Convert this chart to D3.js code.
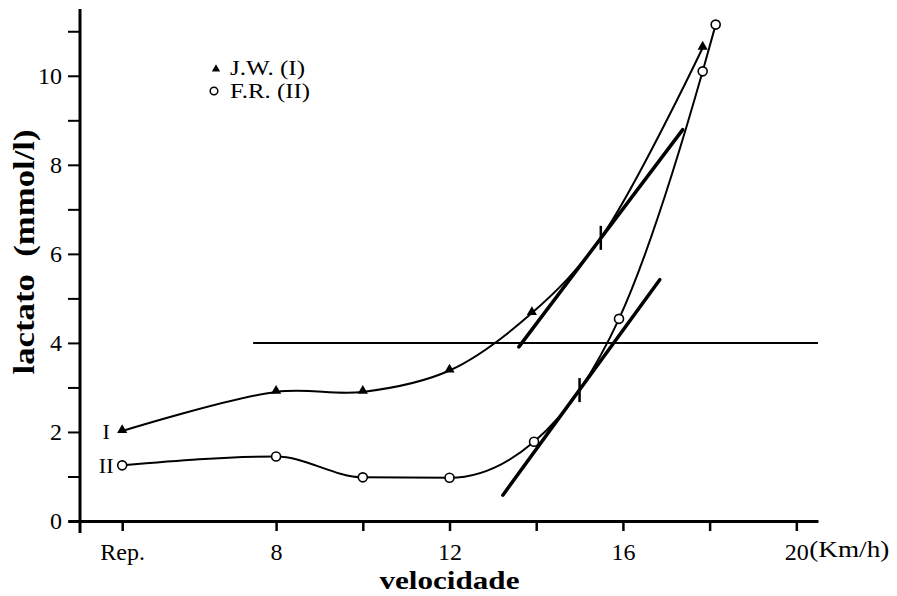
<!DOCTYPE html>
<html>
<head>
<meta charset="utf-8">
<script src="https://cdn.jsdelivr.net/npm/d3@7"></script>
<style>
  body { margin: 0; background: #fff; }
  svg { display: block; font-family: "Liberation Serif", "Times New Roman", serif; }
</style>
</head>
<body>
<svg width="897" height="596"></svg>
<script>
const width = 897;
const height = 596;

// "Rep." (repouso) is drawn a little left of 8 km/h
const REP = 4.45;

const xTicks = [REP, 8, 10, 12, 14, 16, 18, 20];
const xTickLabels = ['Rep.', '8', '', '12', '', '16', '', '20'];
const yTicks = [0, 1, 2, 3, 4, 5, 6, 7, 8, 9, 10, 11];

// J.W. (I) - triangles
const speedI = [REP, 8, 10, 12, 13.9, 17.84];
const lactI = [2.02, 2.9, 2.9, 3.38, 4.67, 10.63];
// F.R. (II) - circles
const speedII = [REP, 8, 10, 12, 13.95, 15.91, 17.84, 18.14];
const lactII = [1.25, 1.45, 0.98, 0.97, 1.78, 4.54, 10.1, 11.15];

// marked thresholds (small vertical dashes) and tangent lines
const thresholdI = [15.49, 6.36];
const thresholdII = [15.0, 2.94];
const tangentI = [[13.6, 3.91], [17.38, 8.79]];
const tangentII = [[13.23, 0.58], [16.85, 5.42]];
const refLevel = 4;
const refStart = 7.47;

const serif = '"Liberation Serif", "Times New Roman", serif';
const svg = d3.select('svg');

const xScale = d3.scaleLinear()
    .domain([3.2, 20.5])
    .range([68, 818]);

const yScale = d3.scaleLinear()
    .domain([0, 11.5])
    .range([521, 9]);

const yAxisX = 80;

// x axis
const xAxis = d3.axisBottom(xScale)
    .tickValues(xTicks)
    .tickSize(10)
    .tickSizeOuter(0)
    .tickPadding(9)
    .tickFormat((d, i) => xTickLabels[i]);

const xAxisG = svg.append('g')
    .attr('transform', 'translate(0,' + yScale(0) + ')')
    .call(xAxis)
    .attr('font-family', serif)
    .attr('font-size', 24);
xAxisG.select('.domain').attr('stroke-width', 3);
xAxisG.selectAll('.tick line').attr('stroke-width', 2.5);
xAxisG.selectAll('.tick text').attr('dy', '0.85em');

svg.append('text')
    .text('(Km/h)')
    .attr('x', xScale(20) + 13)
    .attr('y', yScale(0) + 36)
    .attr('font-size', 23)
    .attr('textLength', 80)
    .attr('lengthAdjust', 'spacingAndGlyphs');

// y axis
const yAxis = d3.axisLeft(yScale)
    .tickValues(yTicks)
    .tickSize(12)
    .tickSizeOuter(0)
    .tickPadding(6)
    .tickFormat(d => d % 2 ? '' : d);

const yAxisG = svg.append('g')
    .attr('transform', 'translate(' + yAxisX + ',0)')
    .call(yAxis)
    .attr('font-family', serif)
    .attr('font-size', 24);
yAxisG.select('.domain').remove();
yAxisG.selectAll('.tick line').attr('stroke-width', 2);
yAxisG.append('line')
    .attr('y1', yScale.range()[1])
    .attr('y2', yScale(0) + 12)
    .attr('stroke', '#000')
    .attr('stroke-width', 3);

// axis titles
svg.append('text')
    .text('velocidade')
    .attr('x', xScale(12))
    .attr('y', 589)
    .attr('text-anchor', 'middle')
    .attr('font-size', 25)
    .attr('font-weight', 'bold')
    .attr('textLength', 140)
    .attr('lengthAdjust', 'spacingAndGlyphs');

svg.append('text')
    .text('lactato  (mmol/l)')
    .style('white-space', 'pre')
    .attr('transform', 'translate(34,' + 252 + ') rotate(-90)')
    .attr('text-anchor', 'middle')
    .attr('font-size', 29)
    .attr('font-weight', 'bold')
    .attr('textLength', 245)
    .attr('lengthAdjust', 'spacingAndGlyphs');

// 4 mmol/l reference line
svg.append('line')
    .attr('x1', xScale(refStart))
    .attr('x2', xScale.range()[1])
    .attr('y1', yScale(refLevel))
    .attr('y2', yScale(refLevel))
    .attr('stroke', '#000')
    .attr('stroke-width', 2);

const lineI = d3.line()
    .x(d => xScale(d[0]))
    .y(d => yScale(d[1]))
    .curve(d3.curveCatmullRom);

const lineII = d3.line()
    .x(d => xScale(d[0]))
    .y(d => yScale(d[1]))
    .curve(d3.curveMonotoneX);

const ptsI = speedI.map((s, i) => [s, lactI[i]]);
const ptsII = speedII.map((s, i) => [s, lactII[i]]);

// the hand-drawn curves run through the marked threshold dashes
const knotsI = ptsI.concat([thresholdI]).sort((a, b) => a[0] - b[0]);
const knotsII = ptsII.concat([thresholdII]).sort((a, b) => a[0] - b[0]);

svg.append('path')
    .attr('d', lineI(knotsI))
    .attr('fill', 'none')
    .attr('stroke', '#000')
    .attr('stroke-width', 2);

svg.append('path')
    .attr('d', lineII(knotsII))
    .attr('fill', 'none')
    .attr('stroke', '#000')
    .attr('stroke-width', 2);

// tangent lines
[tangentI, tangentII].forEach(t => {
    svg.append('path')
        .attr('d', d3.line().x(d => xScale(d[0])).y(d => yScale(d[1]))(t))
        .attr('fill', 'none')
        .attr('stroke', '#000')
        .attr('stroke-width', 3.5)
        .attr('stroke-linecap', 'round');
});

// threshold dashes
[thresholdI, thresholdII].forEach(p => {
    svg.append('line')
        .attr('x1', xScale(p[0]))
        .attr('x2', xScale(p[0]))
        .attr('y1', yScale(p[1]) - 12)
        .attr('y2', yScale(p[1]) + 12)
        .attr('stroke', '#000')
        .attr('stroke-width', 2.5);
});

// markers
const tri = d3.symbol().type(d3.symbolTriangle).size(45);

svg.selectAll('.triI')
    .data(ptsI)
    .enter()
    .append('path')
    .attr('class', 'triI')
    .attr('d', tri)
    .attr('transform', d => 'translate(' + xScale(d[0]) + ',' + (yScale(d[1]) - 1) + ')')
    .attr('fill', '#000');

svg.selectAll('.circII')
    .data(ptsII)
    .enter()
    .append('circle')
    .attr('class', 'circII')
    .attr('cx', d => xScale(d[0]))
    .attr('cy', d => yScale(d[1]))
    .attr('r', 4.5)
    .attr('fill', '#fff')
    .attr('stroke', '#000')
    .attr('stroke-width', 1.6);

// series labels at the start of each curve
svg.append('text')
    .text('I')
    .attr('x', xScale(REP) - 16)
    .attr('y', yScale(lactI[0]) + 8)
    .attr('text-anchor', 'middle')
    .attr('font-size', 22);

svg.append('text')
    .text('II')
    .attr('x', xScale(REP) - 16)
    .attr('y', yScale(lactII[0]) + 8)
    .attr('text-anchor', 'middle')
    .attr('font-size', 22);

// legend
const legend = svg.append('g').attr('transform', 'translate(216,69)');
legend.append('path')
    .attr('d', d3.symbol().type(d3.symbolTriangle).size(30))
    .attr('fill', '#000');
legend.append('text')
    .text('J.W. (I)')
    .attr('x', 14)
    .attr('y', 6)
    .attr('font-size', 21)
    .attr('textLength', 75)
    .attr('lengthAdjust', 'spacingAndGlyphs');
legend.append('circle')
    .attr('cx', -2)
    .attr('cy', 22)
    .attr('r', 3.8)
    .attr('fill', '#fff')
    .attr('stroke', '#000')
    .attr('stroke-width', 1.5);
legend.append('text')
    .text('F.R. (II)')
    .attr('x', 14)
    .attr('y', 29)
    .attr('font-size', 21)
    .attr('textLength', 80)
    .attr('lengthAdjust', 'spacingAndGlyphs');
</script>
</body>
</html>
